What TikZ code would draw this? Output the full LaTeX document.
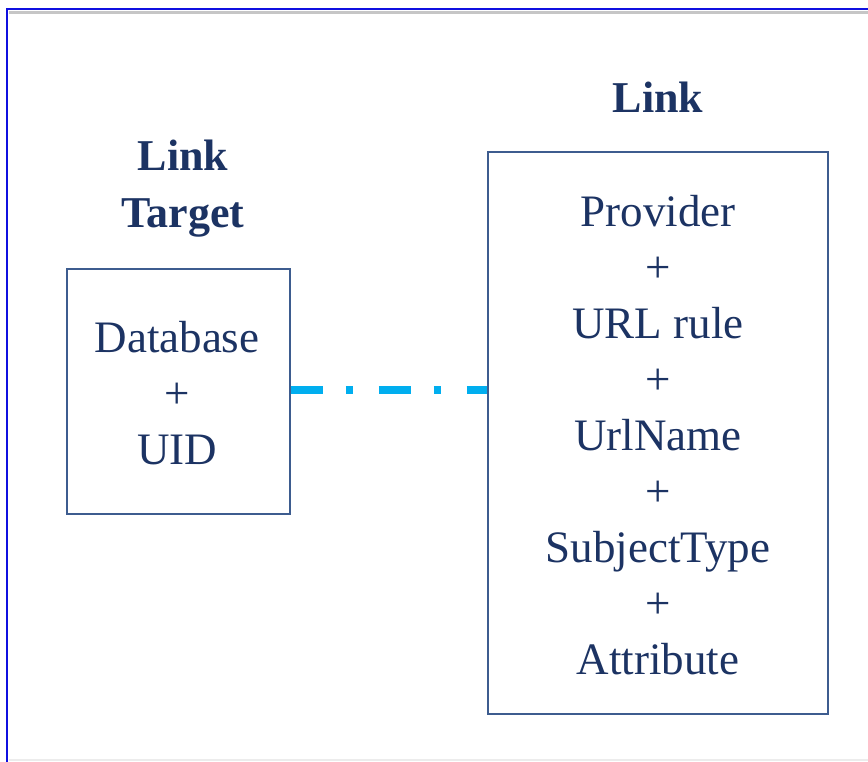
\documentclass[tikz,border=0pt]{standalone}
\usepackage{fontspec}
\setmainfont{Liberation Serif}
\definecolor{txt}{HTML}{1C3363}
\definecolor{boxc}{HTML}{3D5C8F}
\definecolor{link}{HTML}{00AEEF}
\definecolor{frameblue}{HTML}{1010E0}
\tikzset{
  entity/.style={draw=boxc, line width=1.5pt, inner sep=0pt},
  body/.style={text=txt, font=\fontsize{45}{56}\selectfont, align=center, inner sep=0pt},
  title/.style={text=txt, font=\fontsize{44}{57}\selectfont\bfseries, align=center, inner sep=0pt},
  dashdot/.style={draw=link, line width=8pt, dash pattern=on 32pt off 23pt on 7pt off 26pt}
}
\begin{document}
\begin{tikzpicture}[x=1pt,y=-1pt]
\useasboundingbox (0,0) rectangle (868,762);
\fill[white] (0,0) rectangle (868,762);
% window frame
\draw[gray!45, line width=3pt] (9,12.5) -- (868,12.5);
\draw[gray!15, line width=2pt] (9,760) -- (868,760);
\draw[frameblue, line width=2pt] (7,762) -- (7,9) -- (868,9);
% boxes
\node[entity, minimum width=223pt, minimum height=245pt] (target) at (178.5,391.5) {};
\node[entity, minimum width=340pt, minimum height=562pt] (link) at (658,433) {};
% titles
\node[title] (ttarget) at (183,189) {Link\\Target};
\node[title] (tlink) at (658,97) {Link};
% contents
\node[body] (ctarget) at (177,393) {Database\\+\\UID};
\node[body] (clink) at (658,435) {Provider\\+\\URL rule\\+\\UrlName\\+\\SubjectType\\+\\Attribute};
% connector
\draw[dashdot] (target.east |- 0,390) -- (link.west |- 0,390);
\end{tikzpicture}
\end{document}
